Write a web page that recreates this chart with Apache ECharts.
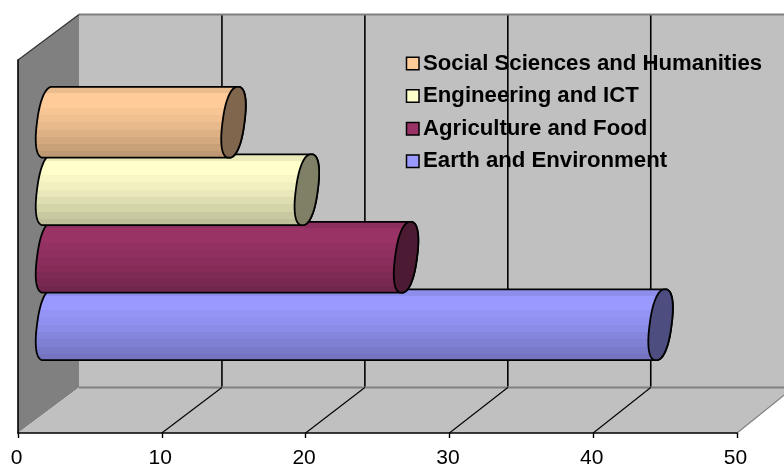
<!DOCTYPE html>
<html>
<head>
<meta charset="utf-8">
<style>html,body{margin:0;padding:0;background:#fff}#c{width:784px;height:466px}</style>
<script src="https://cdn.jsdelivr.net/npm/echarts@6/dist/echarts.min.js"></script>
</head>
<body>
<div id="c"></div>
<script>
// Chart data, bottom bar first
const categories = ['Earth and Environment', 'Agriculture and Food', 'Engineering and ICT', 'Social Sciences and Humanities'];
const values = [42.6, 24.9, 18, 12.9];
const barColors = ['#9999FF', '#993366', '#FFFFCC', '#FFCC99'];
const axisTicks = [0, 10, 20, 30, 40, 50];

// Depth of the pseudo-3D box in pixels; the back plane is very slightly narrower
const DX = 61, DY = -45.5, BACK_SCALE = 0.994;
const FONT = '"Liberation Sans", Arial, sans-serif';

// Brightness of each horizontal band on a cylinder body, top to bottom
const bands = [0.92, 1, 1, 0.97, 0.94, 0.91, 0.87, 0.83, 0.79, 0.75];

function shade(hex, f) {
  const n = parseInt(hex.slice(1), 16);
  const c = [n >> 16 & 255, n >> 8 & 255, n & 255].map(v => Math.round(v * f));
  return 'rgb(' + c.join(',') + ')';
}

function bandedFill(hex) {
  const stops = [];
  bands.forEach((f, i) => {
    const col = shade(hex, f);
    stops.push({ offset: i / bands.length, color: col });
    stops.push({ offset: (i + 1) / bands.length, color: col });
  });
  return new echarts.graphic.LinearGradient(0, 0, 0, 1, stops);
}

// Point on a slanted, slightly squared end cap; t runs from the top (-90deg) around
function capPoint(cx, cy, b, t) {
  const round = v => Math.sign(v) * Math.pow(Math.abs(v), 0.85);
  const c = round(Math.cos(t)), s = round(Math.sin(t));
  return [cx + 11 * c - 4.5 * s, cy + b * s];
}

function arc(cx, cy, b, from, to) {
  const pts = [];
  const n = 60;
  for (let i = 0; i <= n; i++) pts.push(capPoint(cx, cy, b, from + (to - from) * i / n));
  return pts;
}

function cylinder(color) {
  return function (params, api) {
    const end = api.coord([api.value(0), api.value(1)]);
    const start = api.coord([0, api.value(1)]);
    const b = api.size([0, 1])[1] * 1.05 / 2;
    const cy = end[1];
    const left = arc(start[0], cy, b, -Math.PI / 2, -3 * Math.PI / 2);   // around the left side, top to bottom
    const right = arc(end[0], cy, b, Math.PI / 2, -Math.PI / 2);         // around the right side, bottom to top
    const line = { stroke: '#000', lineWidth: 1.8 };
    return {
      type: 'group',
      children: [
        { type: 'polygon', shape: { points: left.concat(right) }, style: Object.assign({ fill: bandedFill(color) }, line) },
        { type: 'polygon', shape: { points: arc(end[0], cy, b, 0, 2 * Math.PI) }, style: Object.assign({ fill: shade(color, 0.5) }, line) }
      ]
    };
  };
}

// The box behind the bars: back wall, left wall, floor and the grid lines at each tick
function boxShell(params, api) {
  const p = (x, y) => api.coord([x, y]);
  const o = p(0, 0), t = p(0, 1), e = p(50, 0), te = p(50, 1);
  const back = q => [o[0] + DX + (q[0] - o[0]) * BACK_SCALE, q[1] + DY];
  const seg = (a, b, stroke, lineWidth) => ({
    type: 'line', shape: { x1: a[0], y1: a[1], x2: b[0], y2: b[1] }, style: { stroke, lineWidth }
  });
  const children = [
    { type: 'polygon', shape: { points: [back(o), back(t), back(te), back(e)] }, style: { fill: '#C0C0C0' } }
  ];
  axisTicks.slice(1, -1).forEach(v => {
    children.push(seg(back(p(v, 0)), back(p(v, 1)), '#000', 1.6));
  });
  children.push(
    { type: 'polygon', shape: { points: [o, t, back(t), back(o)] }, style: { fill: '#808080' } },
    { type: 'polygon', shape: { points: [o, e, back(e), back(o)] }, style: { fill: '#C0C0C0' } },
    seg(back(t), back(te), '#808080', 2),
    seg(back(o), back(e), '#808080', 2),
    seg(t, back(t), '#333', 1.2),
    seg(e, back(e), '#808080', 1.2)
  );
  axisTicks.slice(1, -1).forEach(v => {
    const q = p(v, 0);
    children.push(seg(q, back(q), '#000', 1.1));
  });
  return { type: 'group', children };
}

const noAxisParts = { axisLabel: { show: false }, axisTick: { show: false }, axisLine: { show: false }, splitLine: { show: false } };

const option = {
  animation: false,
  backgroundColor: '#fff',
  grid: [
    // front plane carrying the value axis
    { left: 18, top: 60, width: 719, height: 373, outerBoundsMode: 'none' },
    // bars sit at mid depth
    { left: 48, top: 88.5, width: 719, height: 270, outerBoundsMode: 'none' }
  ],
  xAxis: [
    { gridIndex: 0, type: 'value', min: 0, max: 50, interval: 10, z: 6,
      axisLine: { show: true, onZero: false, lineStyle: { color: '#000', width: 1.6 } },
      axisTick: { show: true, length: 5, lineStyle: { color: '#000', width: 1.4 } },
      splitLine: { show: false },
      axisLabel: { color: '#000', fontFamily: FONT, fontSize: 21, margin: 15, padding: [0, 3, 0, 0] } },
    Object.assign({}, noAxisParts, { gridIndex: 1, type: 'value', min: 0, max: 50 })
  ],
  yAxis: [
    Object.assign({}, noAxisParts, { gridIndex: 0, type: 'value', min: 0, max: 1, z: 6,
      axisLine: { show: true, onZero: false, lineStyle: { color: '#000', width: 1.6 } } }),
    Object.assign({}, noAxisParts, { gridIndex: 1, type: 'category', data: categories })
  ],
  legend: {
    data: categories.slice().reverse(),
    orient: 'vertical',
    left: 400.75,
    top: 47.5,
    itemWidth: 12.5,
    itemHeight: 12.5,
    itemGap: 10.6,
    icon: 'rect',
    selectedMode: false,
    itemStyle: { borderColor: '#000', borderWidth: 1.5 },
    textStyle: { color: '#000', fontFamily: FONT, fontSize: 22.2, lineHeight: 22, fontWeight: 'bold', padding: [0, 0, 0, -1] }
  },
  series: [
    { type: 'custom', name: '__shell', xAxisIndex: 0, yAxisIndex: 0, z: 1, silent: true, clip: false,
      renderItem: boxShell, data: [[0, 0]], tooltip: { show: false } }
  ].concat(categories.map((name, i) => ({
    type: 'custom',
    name,
    xAxisIndex: 1,
    yAxisIndex: 1,
    z: 3,
    clip: false,
    itemStyle: { color: barColors[i] },
    encode: { x: 0, y: 1 },
    renderItem: cylinder(barColors[i]),
    data: [[values[i], i]]
  })))
};

echarts.init(document.getElementById('c'), null, { renderer: 'canvas' }).setOption(option);
</script>
</body>
</html>
